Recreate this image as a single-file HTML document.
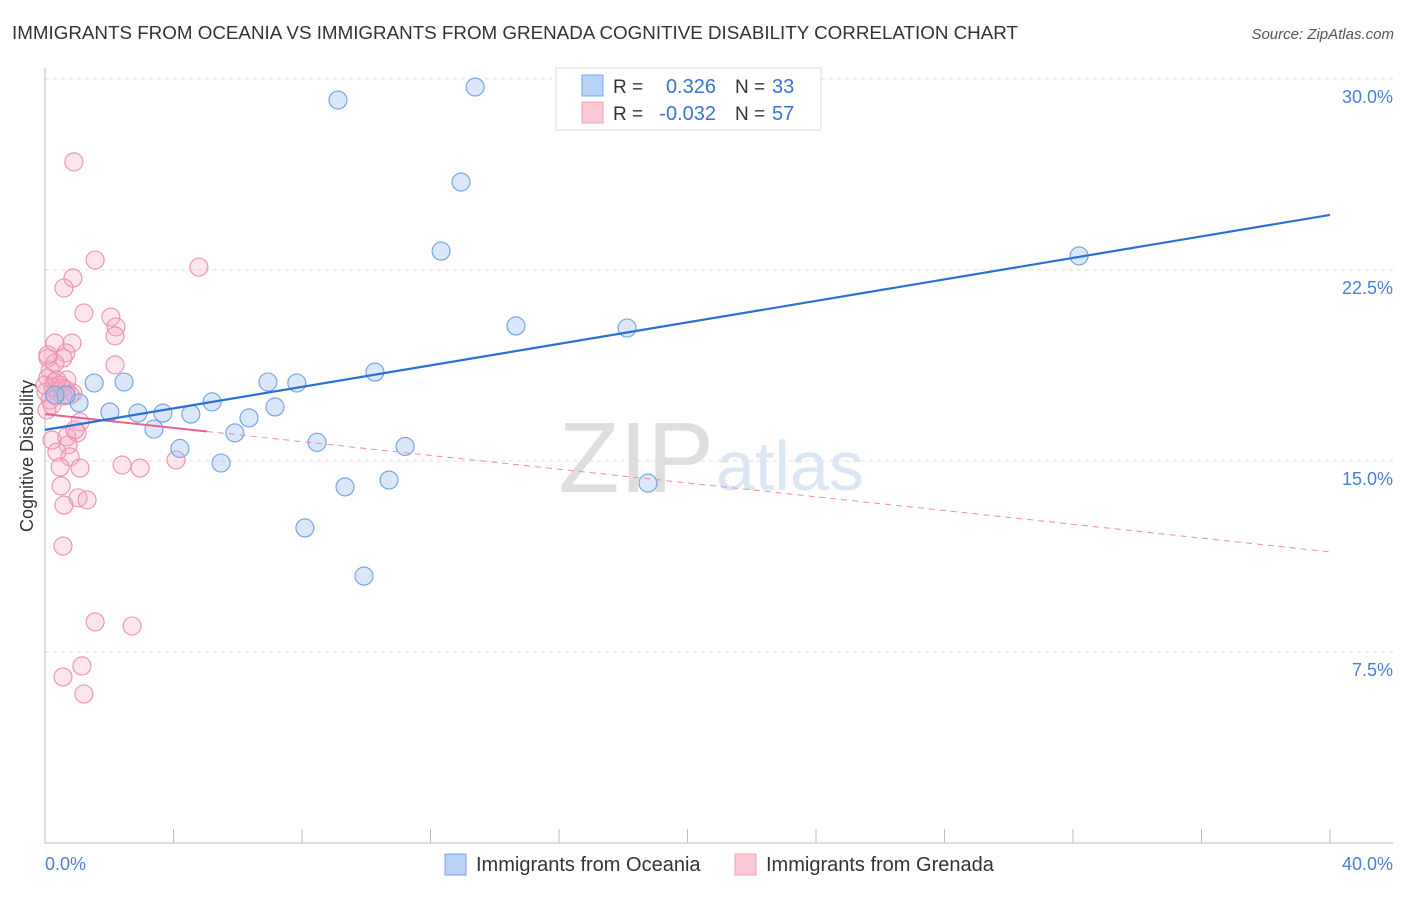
<!DOCTYPE html>
<html><head><meta charset="utf-8"><style>
body{margin:0;background:#fff;font-family:"Liberation Sans",sans-serif}
svg text{font-family:"Liberation Sans",sans-serif}
</style></head><body>
<svg id="c" width="1406" height="892">
<text x="12" y="39" font-size="18.8" fill="#333">IMMIGRANTS FROM OCEANIA VS IMMIGRANTS FROM GRENADA COGNITIVE DISABILITY CORRELATION CHART</text>
<text x="1394" y="39" font-size="15" fill="#555" font-style="italic" text-anchor="end">Source: ZipAtlas.com</text>
<text x="714" y="492" font-size="100" fill="#dedede" font-family="Liberation Serif" text-anchor="end">ZIP</text>
<text x="716" y="490" font-size="70" fill="#dbe6f5">atlas</text>
<g id="grid"></g>
<line x1="45" y1="68" x2="45" y2="843" stroke="#bbb"/>
<line x1="45" y1="843" x2="1393" y2="843" stroke="#bbb"/>
<g id="xt"></g>
<text x="33" y="456" font-size="18" fill="#333" text-anchor="middle" transform="rotate(-90 33 456)">Cognitive Disability</text>
<text x="45" y="870" font-size="18" fill="#4a7fd4">0.0%</text>
<text x="1393" y="870" font-size="18" fill="#4a7fd4" text-anchor="end">40.0%</text>
<g id="pts"></g>
<g id="trend"></g>
<g>
<rect x="556" y="68" width="265" height="62" fill="#fff" stroke="#ddd"/>
<rect x="582" y="75" width="21" height="21" fill="#b8d3f5" stroke="#7aa6e6"/>
<rect x="582" y="102" width="21" height="21" fill="#fcc8d6" stroke="#eea0b8"/>
<text x="613" y="93" font-size="19" fill="#333">R =</text><text x="716" y="93" font-size="20" fill="#3a72d0" text-anchor="end">0.326</text>
<text x="735" y="93" font-size="19" fill="#333">N =</text><text x="772" y="93" font-size="20" fill="#3a72d0">33</text>
<text x="613" y="120" font-size="19" fill="#333">R =</text><text x="716" y="120" font-size="20" fill="#3a72d0" text-anchor="end">-0.032</text>
<text x="735" y="120" font-size="19" fill="#333">N =</text><text x="772" y="120" font-size="20" fill="#3a72d0">57</text>
</g>
<g><rect x="445" y="854" width="21" height="21" fill="#b8d3f5" stroke="#7aa6e6"/><text x="476" y="871" font-size="20" fill="#333">Immigrants from Oceania</text></g>
<g><rect x="735" y="854" width="21" height="21" fill="#fcc8d6" stroke="#eea0b8"/><text x="766" y="871" font-size="20" fill="#333">Immigrants from Grenada</text></g>
</svg>
<script>
const yTicks=[7.5,15,22.5,30];
const yTickLabels=["7.5%","15.0%","22.5%","30.0%"];
const oceaniaX=[9.12,13.39,12.95,12.33,32.19,14.66,18.12,10.27,1.53,2.46,6.94,7.84,1.06,0.65,5.20,2.02,2.89,3.67,4.54,6.35,7.16,3.39,5.91,8.47,11.21,4.20,5.48,9.34,10.71,18.77,8.09,9.93,0.31];
const oceaniaY=[29.17,29.68,25.95,23.24,23.05,20.30,20.22,18.49,18.06,18.10,18.10,18.06,17.28,17.59,17.32,16.92,16.88,16.88,16.84,16.69,17.12,16.25,16.10,15.73,15.57,15.49,14.92,13.98,14.25,14.13,12.37,10.48,17.59];
const grenadaX=[1.56,4.79,0.87,0.59,1.21,2.05,2.21,2.18,0.31,0.84,0.65,0.56,0.09,2.18,0.25,0.16,0.68,0.87,1.09,1.00,0.22,0.68,0.72,0.37,0.78,0.47,1.09,2.40,2.96,4.08,0.50,1.03,1.31,0.59,0.90,0.56,1.56,2.71,1.15,0.56,1.21,0.09,0.31,0.47,0.03,0.16,0.40,0.53,0.0,0.65,0.22,0.78,0.37,0.56,0.31,0.09,0.93,0.06];
const grenadaY=[22.89,22.61,22.18,21.79,20.81,20.65,20.26,19.91,19.63,19.63,19.24,19.04,19.04,18.77,17.90,18.57,18.18,17.67,16.53,16.10,15.82,15.94,15.63,15.35,15.16,14.76,14.72,14.84,14.72,15.04,14.02,13.55,13.47,13.27,26.74,11.66,8.68,8.52,6.95,6.52,5.85,18.26,18.10,17.98,17.71,17.39,17.71,17.86,17.98,17.79,17.20,17.59,18.18,17.55,18.85,19.16,16.22,17.00];
const oceaniaTrend=[16.22,24.66];
const grenadaTrend=[16.84,11.43];
const grenadaSolidEnd=5.04;
const X=v=>45+v*32.125, Y=v=>843-v*25.47;
const NS="http://www.w3.org/2000/svg";
function mk(t,a,p){const e=document.createElementNS(NS,t);for(const k in a)e.setAttribute(k,a[k]);p.appendChild(e);return e;}
const grid=document.getElementById('grid');
yTicks.forEach((t,i)=>{
 const l=mk('line',{x1:45,x2:1393,y1:Y(t),y2:Y(t),stroke:'#ddd','stroke-dasharray':'4,4'},grid);
 
 
 const tx=mk('text',{x:1393,y:Y(t)+24,'font-size':18,fill:'#4a7fd4','text-anchor':'end'},grid);
 tx.textContent=yTickLabels[i];
 
 
});
const xt=document.getElementById('xt');
for(let i=0;i<=10;i++){const l=mk('line',{x1:X(i*4),x2:X(i*4),y1:829,y2:843,stroke:'#bbb'},xt);
 
 }
const pts=document.getElementById('pts');
grenadaX.forEach((x,i)=>{const c=mk('circle',{cx:X(x),cy:Y(grenadaY[i]),r:9,fill:'rgba(248,170,195,0.3)',stroke:'#eb8fad','stroke-width':1.1},pts);
 
 });
oceaniaX.forEach((x,i)=>{const c=mk('circle',{cx:X(x),cy:Y(oceaniaY[i]),r:9,fill:'rgba(160,196,240,0.4)',stroke:'#6e9fe2','stroke-width':1.1},pts);
 
 });
const tr=document.getElementById('trend');
const gy=x=>grenadaTrend[0]+(grenadaTrend[1]-grenadaTrend[0])*x/40;
let l1=mk('line',{x1:X(grenadaSolidEnd),y1:Y(gy(grenadaSolidEnd)),x2:X(40),y2:Y(gy(40)),stroke:'#ea8aab','stroke-width':1,'stroke-dasharray':'6,5'},tr);


let l2=mk('line',{x1:X(0),y1:Y(gy(0)),x2:X(grenadaSolidEnd),y2:Y(gy(grenadaSolidEnd)),stroke:'#e5648f','stroke-width':2},tr);


let l3=mk('line',{x1:X(0),y1:Y(oceaniaTrend[0]),x2:X(40),y2:Y(oceaniaTrend[1]),stroke:'#2a6fd6','stroke-width':2.2},tr);


</script>
</body></html>
